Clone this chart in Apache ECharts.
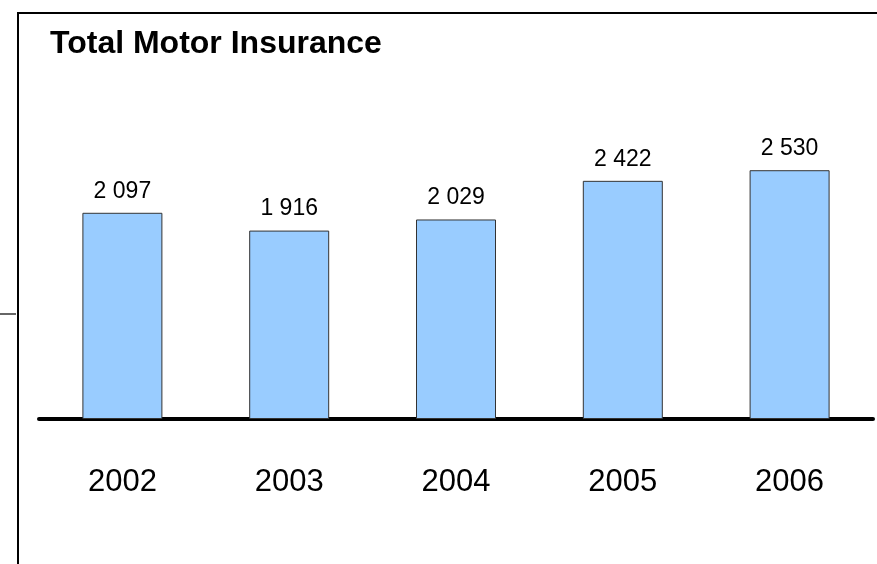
<!DOCTYPE html>
<html>
<head>
<meta charset="utf-8">
<script src="https://cdn.jsdelivr.net/npm/echarts@6/dist/echarts.min.js"></script>
<style>
  html, body { margin: 0; padding: 0; background: #fff; }
  #chart { width: 877px; height: 564px; }
</style>
</head>
<body>
<div id="chart"></div>
<script>
  // data
  var years = ['2002', '2003', '2004', '2005', '2006'];
  var premiums = [2097, 1916, 2029, 2422, 2530];

  var font = '"Liberation Sans", Arial, sans-serif';

  // 2 097 style thousands separator
  function fmt(v) {
    return String(v).replace(/\B(?=(\d{3})+(?!\d))/g, ' ');
  }

  var myChart = echarts.init(document.getElementById('chart'));
  myChart.setOption({
    animation: false,
    backgroundColor: '#fff',
    grid: { left: 39, right: 4, top: 124, bottom: 145 },
    graphic: [
      // frame lines
      { type: 'line', shape: { x1: 17, y1: 13, x2: 877, y2: 13 }, style: { stroke: '#000', lineWidth: 2 } },
      { type: 'line', shape: { x1: 18, y1: 12, x2: 18, y2: 564 }, style: { stroke: '#000', lineWidth: 2 } },
      { type: 'line', shape: { x1: 0, y1: 314, x2: 16, y2: 314 }, style: { stroke: '#333', lineWidth: 1.5 } },
      {
        type: 'text', left: 50, top: 28,
        style: { text: 'Total Motor Insurance', fill: '#000', font: 'bold 32px ' + font }
      }
    ],
    xAxis: {
      type: 'category',
      data: years,
      axisLine: { lineStyle: { color: '#000', width: 4, cap: 'round' } },
      axisTick: { show: false },
      axisLabel: { color: '#000', fontSize: 31, fontFamily: font, margin: 48, lineHeight: 31 }
    },
    yAxis: {
      type: 'value',
      min: 0,
      max: 3000,
      show: false,
      splitLine: { show: false }
    },
    series: [
      {
        type: 'bar',
        data: premiums,
        barWidth: 80,
        itemStyle: { color: '#99CCFF', borderColor: '#333', borderWidth: 1 },
        label: {
          show: true,
          position: 'top',
          distance: 10,
          color: '#000',
          fontSize: 23,
          fontFamily: font,
          formatter: function (p) { return fmt(p.value); }
        }
      }
    ]
  });
</script>
</body>
</html>
